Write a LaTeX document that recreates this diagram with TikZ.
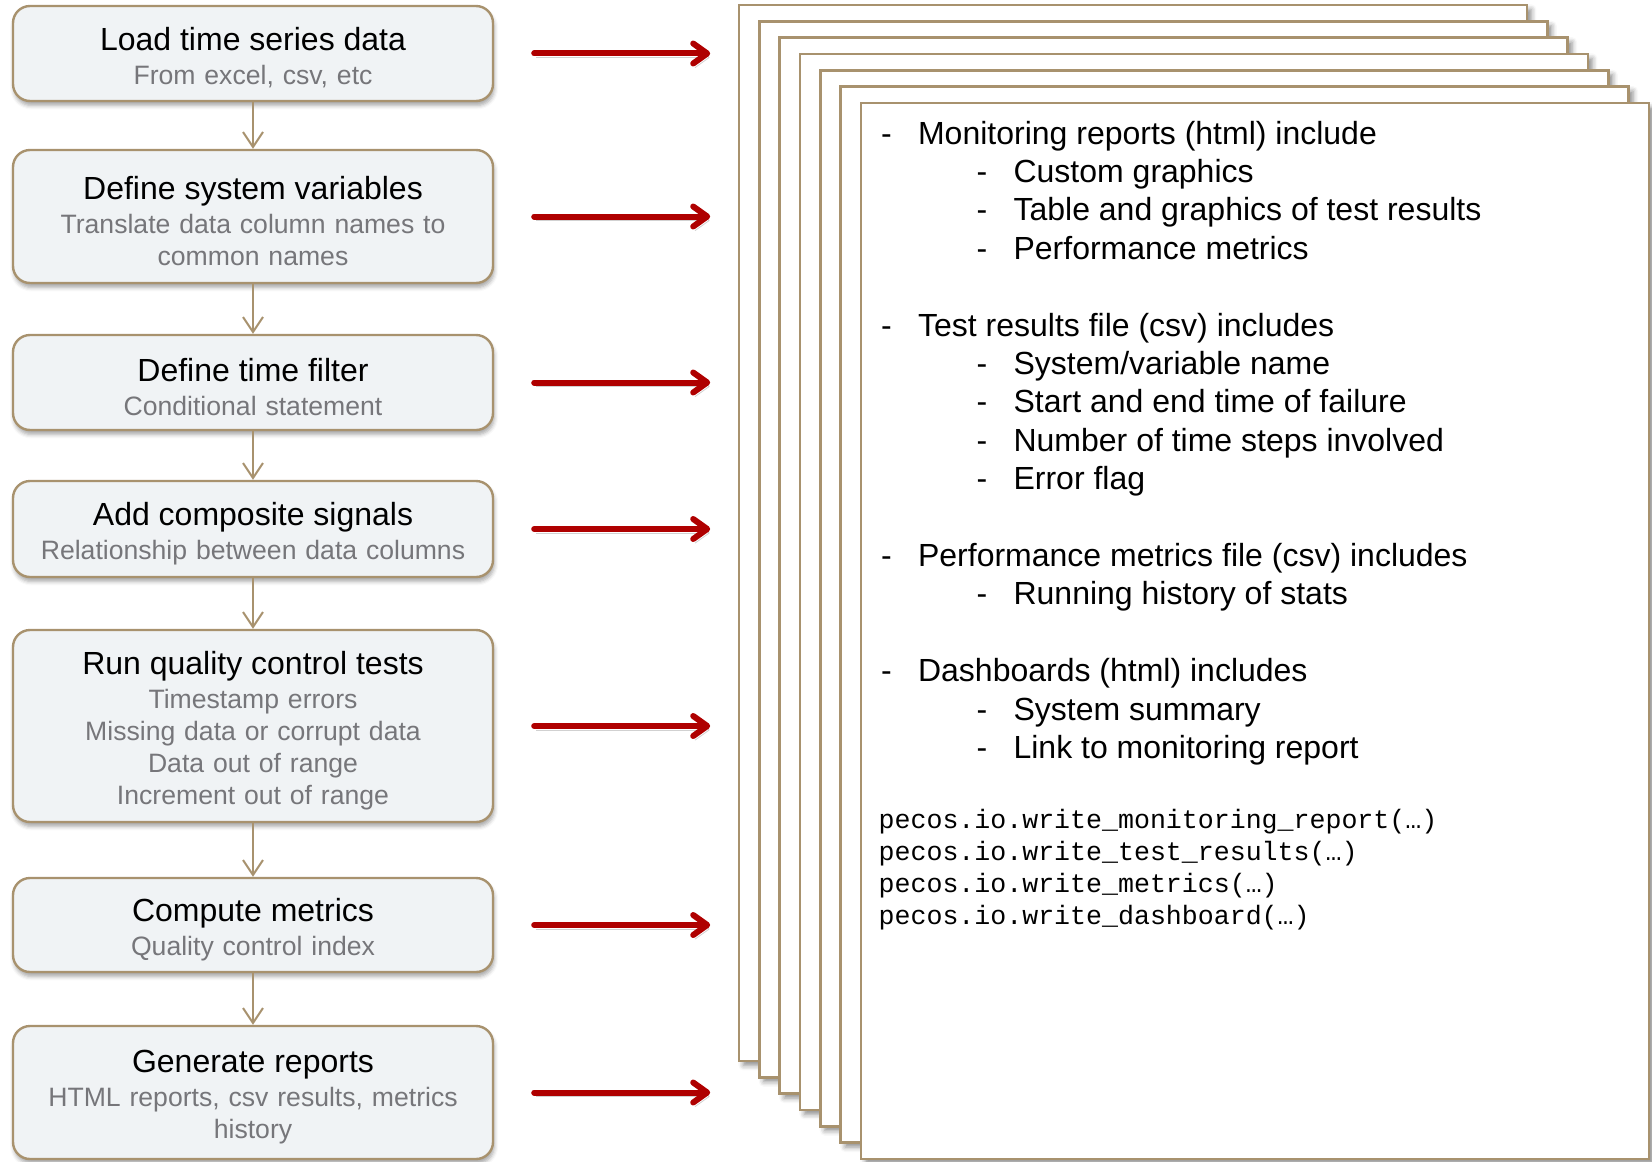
\documentclass[tikz,border=0pt]{standalone}
\usepackage{fontspec}
\setmainfont{Liberation Sans}
\newfontfamily\codefont{Liberation Mono}
\usetikzlibrary{arrows.meta,shadows.blur}

\definecolor{tan}{RGB}{168,146,110}
\definecolor{boxfill}{RGB}{240,243,245}
\definecolor{subgray}{RGB}{118,118,122}
\definecolor{arrowred}{RGB}{175,0,0}

\newcommand\titlef{\color{black}\fontsize{16}{19}\selectfont\rule{0pt}{16pt}}
\newcommand\subf{\color{subgray}\fontsize{13.3}{16}\selectfont}

\tikzset{
	stepbox/.style={draw=tan, line width=1.2pt, fill=boxfill, rounded corners=8.5pt,
		minimum width=240pt, text width=232pt, align=center, inner sep=0pt,
		font=\fontsize{13.3}{16}\selectfont, text=subgray,
		blur shadow={shadow xshift=0.6pt, shadow yshift=-2.2pt, shadow blur radius=2pt, shadow opacity=35}},
	flow/.style={draw=tan, line width=1pt, -{Straight Barb[length=7.5pt,width=10pt]}},
	feed/.style={draw=arrowred, line width=3pt, line cap=round,
		-{Straight Barb[length=7pt,width=10pt,round]},
		preaction={draw=black, opacity=.18, transform canvas={shift={(1pt,-2pt)}}}},
	sheet/.style={draw=tan, line width=1.2pt, fill=white,
		blur shadow={shadow xshift=2.2pt, shadow yshift=-2.2pt, shadow blur radius=2.5pt, shadow opacity=45}},
	bullet/.style={anchor=base west, font=\fontsize{16}{19}\selectfont},
	codeline/.style={anchor=base west, font=\codefont\fontsize{13.3}{16}\selectfont},
}

\begin{document}
\begin{tikzpicture}[x=0.5pt, y=-0.5pt]
	\useasboundingbox (0,0) rectangle (1652,1161);
	% processing steps
	\node[stepbox, minimum height=47.5pt] (load) at (253,53.5) {\titlef Load time series data\\[1pt]\subf From excel, csv, etc};
	\node[stepbox, minimum height=66.5pt] (vars) at (253,216.5) {\titlef Define system variables\\[1pt]\subf Translate data column names to\\common names};
	\node[stepbox, minimum height=47.5pt] (filter) at (253,382.5) {\titlef Define time filter\\[1pt]\subf Conditional statement};
	\node[stepbox, minimum height=48pt] (signals) at (253,529) {\titlef Add composite signals\\[1pt]\subf Relationship between data columns};
	\node[stepbox, minimum height=96pt] (tests) at (253,726) {\titlef Run quality control tests\\[1pt]\subf Timestamp errors\\Missing data or corrupt data\\Data out of range\\Increment out of range};
	\node[stepbox, minimum height=47pt] (metrics) at (253,925) {\titlef Compute metrics\\[1pt]\subf Quality control index};
	\node[stepbox, minimum height=66.5pt] (reports) at (253,1092.5) {\titlef Generate reports\\[1pt]\subf HTML reports, csv results, metrics\\history};
	\draw[flow] (load) -- (vars);
	\draw[flow] (vars) -- (filter);
	\draw[flow] (filter) -- (signals);
	\draw[flow] (signals) -- (tests);
	\draw[flow] (tests) -- (metrics);
	\draw[flow] (metrics) -- (reports);
	% every step feeds the output
	\foreach \s in {load,vars,filter,signals,tests,metrics,reports}
		\draw[feed] ([xshift=20pt]\s.east) -- ([xshift=108pt]\s.east);
	% stack of output pages
	\foreach \i in {0,...,6}
		\draw[sheet] ({739+20.33*\i},{5+16.33*\i}) rectangle ++(788,1056);
	\foreach \x/\y/\txt [count=\n] in {
		874/144/{Monitoring reports (html) include},
		969.5/182.4/{Custom graphics},
		969.5/220.8/{Table and graphics of test results},
		969.5/259.2/{Performance metrics},
		874/336/{Test results file (csv) includes},
		969.5/374.4/{System/variable name},
		969.5/412.8/{Start and end time of failure},
		969.5/451.2/{Number of time steps involved},
		969.5/489.6/{Error flag},
		874/566.4/{Performance metrics file (csv) includes},
		969.5/604.8/{Running history of stats},
		874/681.6/{Dashboards (html) includes},
		969.5/720/{System summary},
		969.5/758.4/{Link to monitoring report}}
		\node[bullet] (item\n) at (\x,\y) {\makebox[18.5pt][l]{-}\txt};
	\node[codeline] (call1) at (871.6,828) {pecos.io.write\_monitoring\_report(…)};
	\node[codeline] (call2) at (871.6,860) {pecos.io.write\_test\_results(…)};
	\node[codeline] (call3) at (871.6,892) {pecos.io.write\_metrics(…)};
	\node[codeline] (call4) at (871.6,924) {pecos.io.write\_dashboard(…)};
\end{tikzpicture}
\end{document}
